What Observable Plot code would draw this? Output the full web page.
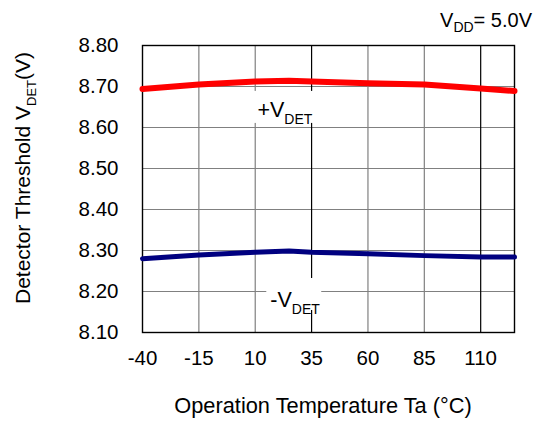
<!DOCTYPE html>
<html><head><meta charset="utf-8">
<script src="https://cdn.jsdelivr.net/npm/d3@7"></script>
<script src="https://cdn.jsdelivr.net/npm/@observablehq/plot@0.6"></script>
<style>
body{margin:0;background:#fff}
svg{font-family:"Liberation Sans",Arial,sans-serif}
</style>
</head><body><div id="chart"></div>
<script>
const temps = [-40, -15, 10, 25, 35, 60, 85, 110, 125];
const vdetPlus = [8.694, 8.705, 8.712, 8.714, 8.712, 8.708, 8.705, 8.695, 8.689];
const vdetMinus = [8.280, 8.289, 8.296, 8.299, 8.296, 8.292, 8.2875, 8.284, 8.284];
const xTicks = [-40, -15, 10, 35, 60, 85, 110];
const yTicks = [8.10, 8.20, 8.30, 8.40, 8.50, 8.60, 8.70, 8.80];
const xGridGray = [-15, 10, 60, 85];
const xGridDark = [35, 110];

const plusData = temps.map((t, i) => ({t, v: vdetPlus[i]}));
const minusData = temps.map((t, i) => ({t, v: vdetMinus[i]}));

const plot = Plot.plot({
  width: 542, height: 421,
  marginLeft: 142, marginRight: 28, marginTop: 45, marginBottom: 89,
  x: {domain: [-40, 125]},
  y: {domain: [8.1, 8.8]},
  style: {fontFamily: '"Liberation Sans",Arial,sans-serif', fontSize: "20.5px", color: "#000", background: "#fff"},
  marks: [
    Plot.gridY(yTicks.slice(1, -1), {stroke: "#808080", strokeOpacity: 1, strokeWidth: 1.2}),
    Plot.gridX(xGridGray, {stroke: "#808080", strokeOpacity: 1, strokeWidth: 1.2}),
    Plot.gridX(xGridDark, {stroke: "#000", strokeOpacity: 1, strokeWidth: 1.2}),
    Plot.frame({stroke: "#000", strokeWidth: 1.4}),
    Plot.axisX(xTicks, {tickSize: 0, tickPadding: 18, label: null, fontSize: 20.5, tickFormat: d => String(d)}),
    Plot.axisY(yTicks, {tickSize: 0, tickPadding: 24, label: null, fontSize: 20.5, tickFormat: d => d.toFixed(2)}),
    Plot.line(plusData, {x: "t", y: "v", stroke: "#ff0000", strokeWidth: 6}),
    Plot.line(minusData, {x: "t", y: "v", stroke: "#000080", strokeWidth: 5})
  ]
});
document.getElementById("chart").appendChild(plot);

const svg = d3.select(plot);
const xs = plot.scale("x"), ys = plot.scale("y");

function subText(g, x, y, parts, size, subSize, subDy, anchor) {
  const t = g.append("text").attr("x", x).attr("y", y)
    .attr("font-size", size).attr("fill", "#000").attr("text-anchor", anchor || "start");
  let cur = 0;
  parts.forEach(([s, sub]) => {
    const dy = sub ? subDy - cur : -cur;
    cur = sub ? subDy : 0;
    t.append("tspan").attr("dy", dy).attr("font-size", sub ? subSize : size).text(s);
  });
  return t;
}

// Axis titles
const yt = svg.append("g").attr("transform", "translate(30,178) rotate(-90)");
subText(yt, 0, 0, [["Detector Threshold V", false], ["DET", true], ["(V)", false]], 21, 13, 6, "middle");
subText(svg, 323, 412.5, [["Operation Temperature Ta (°C)", false]], 21.8, 13, 6, "middle");
subText(svg, 532, 26.7, [["V", false], ["DD", true], ["= 5.0V", false]], 20, 14, 5.5, "end");

// Curve labels with white background
function curveLabel(sign, tx, vy, top, bottom) {
  const g = svg.append("g");
  const x = xs.apply(tx), y = ys.apply(vy);
  const t = subText(g, x, y, [[sign + "V", false], ["DET", true]], 21.5, 14, 7, "start");
  const b = t.node().getBBox();
  g.insert("rect", "text").attr("x", b.x - 4).attr("y", y - top)
    .attr("width", b.width + 5).attr("height", top + bottom).attr("fill", "#fff");
}
curveLabel("+", 11.2, 8.6246, 26, 6);
curveLabel("-", 16.9, 8.161, 29, 3);
</script>
</body></html>
